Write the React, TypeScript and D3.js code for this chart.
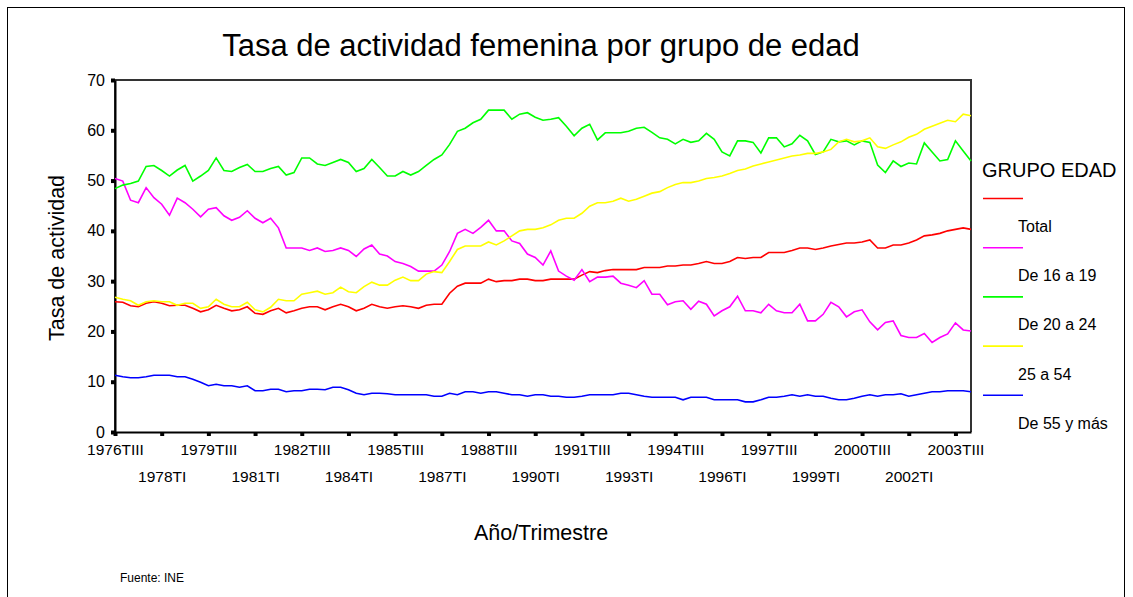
import React, { useRef, useEffect } from "react";
import * as d3 from "d3";

// trimestres 1976TIII .. 2004TI
const firstYear = 1976;
const firstQuarter = 2; // 0 = TI
const nPoints = 111;
const quarterNames = ["TI", "TII", "TIII", "TIV"];
const periods: string[] = [];
for (let i = 0; i < nPoints; i++) {
  const q = firstYear * 4 + firstQuarter + i;
  periods.push(Math.floor(q / 4) + quarterNames[q % 4]);
}

const yTicks = [0, 10, 20, 30, 40, 50, 60, 70];

const seriesNames = ["Total", "De 16 a 19", "De 20 a 24", "25 a 54", "De 55 y más"];
const seriesColors = ["#ff0000", "#ff00ff", "#00ff00", "#ffff00", "#0000ff"];

const total = [
  25.9, 25.8, 25.1, 24.9, 25.6, 25.9, 25.6, 25.1, 25.2, 25.2, 24.6, 23.9, 24.3, 25.2, 24.6, 24.1, 24.3, 24.9, 23.6, 23.4, 24.1, 24.6, 23.7, 24.1, 24.6, 24.9, 24.9, 24.3,
  24.9, 25.4, 24.9, 24.1, 24.6, 25.4, 24.9, 24.6, 24.9, 25.1, 24.9, 24.6, 25.2, 25.4, 25.4, 27.6, 29.0, 29.6, 29.6, 29.6, 30.4, 29.9, 30.1, 30.1, 30.4, 30.4, 30.1, 30.1,
  30.4, 30.4, 30.4, 30.4, 31.2, 31.9, 31.7, 32.1, 32.3, 32.3, 32.3, 32.3, 32.7, 32.7, 32.7, 33.0, 33.0, 33.2, 33.2, 33.5, 33.9, 33.5, 33.5, 33.9, 34.7, 34.5, 34.7, 34.7,
  35.7, 35.7, 35.7, 36.1, 36.6, 36.6, 36.3, 36.6, 37.0, 37.3, 37.6, 37.6, 37.8, 38.2, 36.6, 36.6, 37.2, 37.2, 37.6, 38.2, 39.0, 39.2, 39.5, 40.0, 40.3, 40.6, 40.3,
];

const de16a19 = [
  50.4, 49.9, 46.1, 45.6, 48.6, 46.6, 45.3, 43.1, 46.5, 45.6, 44.3, 42.8, 44.3, 44.6, 43.0, 42.1, 42.7, 44.0, 42.5, 41.6, 42.5, 40.6, 36.6, 36.6, 36.6, 36.1, 36.6, 35.9,
  36.1, 36.6, 36.1, 34.9, 36.4, 37.2, 35.4, 35.0, 33.9, 33.5, 32.9, 32.0, 32.0, 32.0, 33.2, 35.9, 39.5, 40.3, 39.5, 40.7, 42.1, 40.0, 40.0, 38.0, 37.5, 35.4, 34.7, 33.2,
  36.0, 32.0, 31.0, 30.2, 32.3, 29.9, 30.8, 30.8, 31.0, 29.6, 29.2, 28.7, 30.1, 27.4, 27.4, 25.3, 25.9, 26.1, 24.4, 26.0, 25.4, 23.1, 24.1, 24.9, 27.0, 24.1, 24.1, 23.7,
  25.4, 24.1, 23.7, 23.7, 25.4, 22.1, 22.1, 23.4, 25.8, 24.9, 22.9, 23.9, 24.3, 21.9, 20.3, 21.8, 22.1, 19.2, 18.8, 18.8, 19.6, 17.8, 18.8, 19.5, 21.7, 20.3, 20.1,
];

const de20a24 = [
  48.4, 49.1, 49.4, 49.9, 52.8, 53.0, 52.0, 50.9, 52.1, 53.0, 49.9, 50.9, 52.0, 54.5, 52.0, 51.8, 52.6, 53.2, 51.8, 51.8, 52.4, 52.8, 51.1, 51.6, 54.5, 54.5, 53.3, 53.0,
  53.6, 54.2, 53.6, 51.8, 52.4, 54.2, 52.6, 50.9, 50.9, 51.8, 51.1, 51.8, 53.0, 54.2, 55.1, 57.2, 59.8, 60.4, 61.5, 62.2, 64.0, 64.0, 64.0, 62.2, 63.2, 63.5, 62.6, 62.0,
  62.2, 62.5, 60.8, 58.9, 60.4, 61.2, 58.1, 59.5, 59.5, 59.5, 59.8, 60.4, 60.6, 59.6, 58.5, 58.2, 57.3, 58.2, 57.6, 57.9, 59.4, 58.2, 55.7, 54.9, 57.9, 57.9, 57.6, 55.5,
  58.5, 58.5, 56.7, 57.3, 59.0, 57.9, 55.2, 55.7, 58.2, 57.7, 57.9, 57.1, 57.9, 57.6, 53.1, 51.6, 53.9, 52.8, 53.5, 53.3, 57.5, 55.7, 53.9, 54.2, 57.9, 55.9, 53.9,
];

const de25a54 = [
  26.8, 26.4, 26.1, 25.2, 25.9, 26.1, 25.9, 25.9, 25.2, 25.6, 25.6, 24.6, 24.9, 26.4, 25.4, 24.9, 24.9, 25.8, 24.3, 23.9, 24.8, 26.4, 26.1, 26.1, 27.4, 27.7, 28.0, 27.4,
  27.7, 28.8, 27.9, 27.7, 28.9, 29.8, 29.2, 29.2, 30.2, 30.8, 30.1, 30.1, 31.4, 31.9, 31.7, 33.9, 36.3, 37.0, 37.0, 37.0, 37.8, 37.2, 38.0, 39.0, 40.0, 40.3, 40.3, 40.6,
  41.2, 42.1, 42.5, 42.5, 43.5, 44.9, 45.6, 45.6, 45.9, 46.5, 45.9, 46.3, 46.9, 47.5, 47.8, 48.6, 49.2, 49.6, 49.6, 49.9, 50.4, 50.6, 50.9, 51.4, 52.0, 52.3, 52.9, 53.3,
  53.7, 54.1, 54.5, 54.9, 55.1, 55.4, 55.4, 55.7, 56.2, 57.7, 58.2, 57.7, 57.9, 58.5, 56.7, 56.4, 57.1, 57.7, 58.6, 59.2, 60.2, 60.8, 61.4, 62.0, 61.7, 63.2, 62.9,
];

const de55ymas = [
  11.3, 11.0, 10.8, 10.8, 11.0, 11.3, 11.3, 11.3, 11.0, 11.0, 10.5, 9.9, 9.2, 9.5, 9.2, 9.2, 8.9, 9.2, 8.2, 8.2, 8.5, 8.5, 8.0, 8.2, 8.2, 8.5, 8.5, 8.4, 8.9, 8.9, 8.4, 7.7, 7.4, 7.7, 7.7,
  7.6, 7.4, 7.4, 7.4, 7.4, 7.4, 7.1, 7.1, 7.7, 7.4, 8.0, 8.0, 7.7, 8.0, 8.0, 7.7, 7.4, 7.4, 7.1, 7.4, 7.4, 7.1, 7.1, 6.9, 6.9, 7.1, 7.4, 7.4, 7.4, 7.4, 7.7, 7.7, 7.4, 7.1, 6.9,
  6.9, 6.9, 6.9, 6.4, 6.9, 6.9, 6.9, 6.4, 6.4, 6.4, 6.4, 6.0, 6.0, 6.4, 6.9, 6.9, 7.1, 7.4, 7.1, 7.4, 7.1, 7.1, 6.7, 6.4, 6.4, 6.7, 7.1, 7.4, 7.1, 7.4, 7.4, 7.6, 7.1, 7.4, 7.7, 8.0, 8.0, 8.2, 8.2, 8.2, 8.0,
];

const seriesValues = [total, de16a19, de20a24, de25a54, de55ymas];

const W = 1133;
const H = 597;
const FONT = "'Liberation Sans', Arial, sans-serif";

function App() {
  const svgRef = useRef<SVGSVGElement>(null);

  useEffect(() => {
    const svg = d3.select(svgRef.current);
    svg.selectAll("*").remove();

    const left = 115, right = 971, top = 80, bottom = 432;

    const x = d3.scalePoint<string>().domain(periods).range([left, right]);
    const y = d3.scaleLinear().domain([0, 70]).range([bottom, top]);

    // borde exterior
    svg.append("rect")
      .attr("x", 7.5).attr("y", 7.5)
      .attr("width", 1117).attr("height", 620)
      .attr("fill", "none").attr("stroke", "#000").attr("stroke-width", 1);

    // titulo
    svg.append("text")
      .attr("x", 541).attr("y", 56)
      .attr("text-anchor", "middle")
      .style("font-family", FONT).style("font-size", "31px")
      .text("Tasa de actividad femenina por grupo de edad");

    // marco del grafico
    svg.append("path")
      .attr("d", `M${left},${bottom}V${top}H${right}V${bottom}`)
      .attr("fill", "none").attr("stroke", "#333").attr("stroke-width", 2);

    // eje Y
    const yAxis = d3.axisLeft(y).tickValues(yTicks).tickSize(0).tickPadding(10);
    const gy = svg.append("g").attr("transform", `translate(${left},0)`).call(yAxis);
    gy.select(".domain").attr("stroke", "#000").attr("stroke-width", 2);
    gy.selectAll("text").style("font-family", FONT).style("font-size", "16px").attr("fill", "#000");
    gy.selectAll(".tick").append("rect")
      .attr("x", -4).attr("y", -2).attr("width", 4).attr("height", 4).attr("fill", "#000");

    // eje X
    const tickIdx = d3.range(0, nPoints, 6);
    const xAxis = d3.axisBottom(x).tickValues(tickIdx.map((i) => periods[i])).tickSize(0).tickPadding(0);
    const gx = svg.append("g").attr("transform", `translate(0,${bottom})`).call(xAxis);
    gx.select(".domain").attr("stroke", "#000").attr("stroke-width", 2);
    gx.selectAll(".tick").append("rect")
      .attr("x", -2).attr("y", 0).attr("width", 4).attr("height", 4).attr("fill", "#000");
    gx.selectAll<SVGTextElement, string>("text")
      .style("font-family", FONT).style("font-size", "15.5px").attr("fill", "#000")
      .attr("dy", null)
      .attr("y", (d) => (periods.indexOf(d) % 12 === 0 ? 23 : 50));

    // lineas
    const line = d3.line<number>()
      .x((d, i) => x(periods[i]) as number)
      .y((d) => y(d));

    svg.selectAll(".serie")
      .data(seriesValues)
      .join("path")
      .attr("class", "serie")
      .attr("fill", "none")
      .attr("stroke", (d, i) => seriesColors[i])
      .attr("stroke-width", 1.6)
      .attr("stroke-linejoin", "miter")
      .attr("d", (d) => line(d));

    // titulos de ejes
    svg.append("text")
      .attr("transform", "translate(64,258) rotate(-90)")
      .attr("text-anchor", "middle")
      .style("font-family", FONT).style("font-size", "21.5px")
      .text("Tasa de actividad");

    svg.append("text")
      .attr("x", 541).attr("y", 540)
      .attr("text-anchor", "middle")
      .style("font-family", FONT).style("font-size", "21.5px")
      .text("Año/Trimestre");

    svg.append("text")
      .attr("x", 120).attr("y", 582)
      .style("font-family", FONT).style("font-size", "12px")
      .text("Fuente: INE");

    // leyenda
    const lg = svg.append("g");
    lg.append("text")
      .attr("x", 982).attr("y", 177)
      .style("font-family", FONT).style("font-size", "20px")
      .text("GRUPO EDAD");

    const items = lg.selectAll(".item")
      .data(seriesNames)
      .join("g")
      .attr("class", "item")
      .attr("transform", (d, i) => `translate(0,${198.5 + i * 49.2})`);

    items.append("line")
      .attr("x1", 983).attr("x2", 1023).attr("y1", 0).attr("y2", 0)
      .attr("stroke", (d, i) => seriesColors[i]).attr("stroke-width", 1.6);

    items.append("text")
      .attr("x", 1018).attr("y", 33.5)
      .style("font-family", FONT).style("font-size", "16px")
      .text((d) => d);
  }, []);

  return (
    <div style={{ position: "absolute", left: 0, top: 0 }}>
      <svg ref={svgRef} width={W} height={H} style={{ display: "block", background: "#fff" }} />
    </div>
  );
}

export default App;
